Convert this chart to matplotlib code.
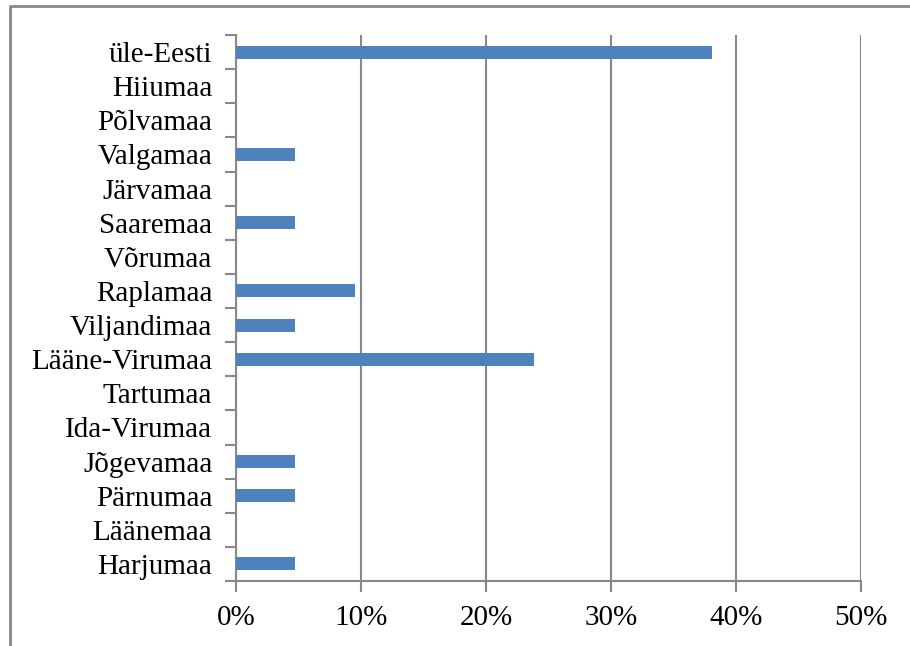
import matplotlib

matplotlib.use("Agg")
import matplotlib.pyplot as plt
from matplotlib.lines import Line2D

# categories listed bottom to top, as they are drawn
regions = [
    "Harjumaa",
    "Läänemaa",
    "Pärnumaa",
    "Jõgevamaa",
    "Ida-Virumaa",
    "Tartumaa",
    "Lääne-Virumaa",
    "Viljandimaa",
    "Raplamaa",
    "Võrumaa",
    "Saaremaa",
    "Järvamaa",
    "Valgamaa",
    "Põlvamaa",
    "Hiiumaa",
    "üle-Eesti",
]
shares = [4.76, 0, 4.76, 4.76, 0, 0, 23.81, 4.76, 9.52, 0, 4.76, 0, 4.76, 0, 0, 38.1]
x_ticks = [0, 10, 20, 30, 40, 50]
x_labels = ["0%", "10%", "20%", "30%", "40%", "50%"]

plt.rcParams["font.family"] = ["Liberation Serif", "DejaVu Serif"]

GRID = "#888888"
BAR = "#4F81BD"

fig = plt.figure(figsize=(9.1, 6.46), dpi=100)
ax = fig.add_axes([0.2593, 0.1006, 0.6869, 0.8452])

ypos = range(len(regions))
ax.barh(ypos, shares, height=0.38, color=BAR, zorder=3)

ax.set_xlim(0, 50)
ax.set_ylim(-0.5, len(regions) - 0.5)
ax.set_xticks(x_ticks)
ax.set_xticklabels(x_labels, fontsize=21)
ax.set_yticks(list(ypos))
ax.set_yticklabels(regions, fontsize=21)

# category boundary ticks on the y axis
ax.set_yticks([i - 0.5 for i in range(len(regions) + 1)], minor=True)
ax.tick_params(axis="y", which="major", length=0, pad=17)
ax.tick_params(axis="y", which="minor", length=8, width=1.5, color=GRID)
ax.tick_params(axis="x", length=8, width=1.5, color=GRID, pad=9)

ax.grid(axis="x", color=GRID, linewidth=1.5, zorder=0)
for side in ("top", "right"):
    ax.spines[side].set_visible(False)
for side in ("left", "bottom"):
    ax.spines[side].set_color(GRID)
    ax.spines[side].set_linewidth(1.5)

# outer frame (left and top edges only)
fig.add_artist(Line2D([10 / 910, 10 / 910, 1.0], [0.0, 1 - 6 / 646, 1 - 6 / 646],
                      transform=fig.transFigure, color=GRID, linewidth=2))

fig.savefig("out.png", dpi=100)
